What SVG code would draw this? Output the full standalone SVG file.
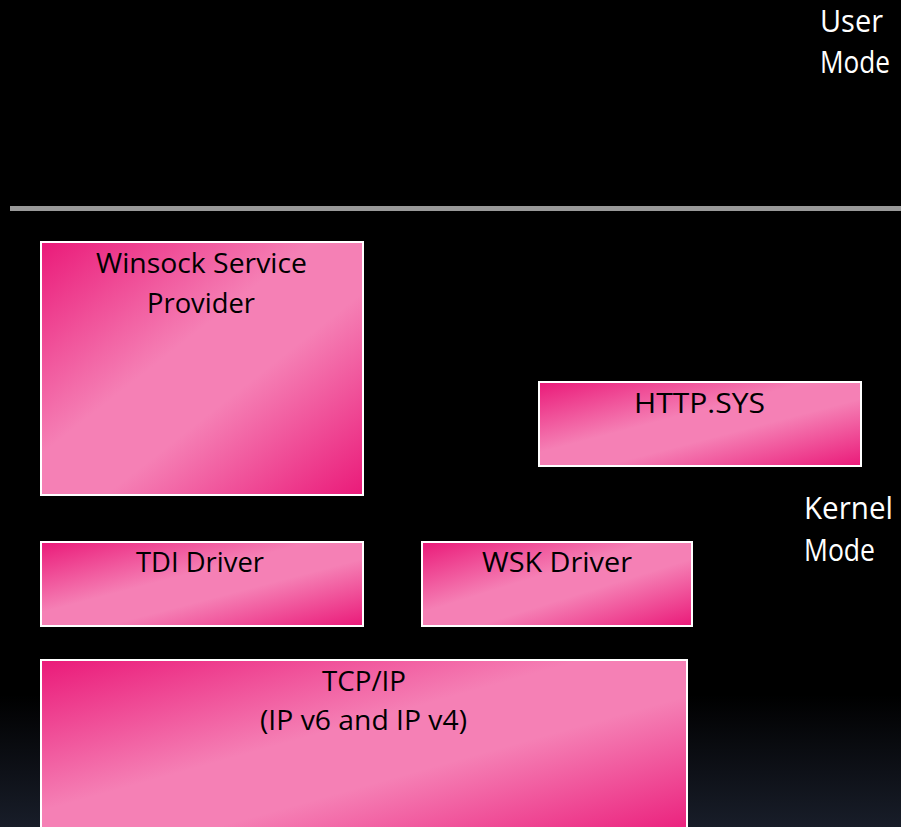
<svg xmlns="http://www.w3.org/2000/svg" width="901" height="827" viewBox="0 0 901 827">
  <defs>
    <linearGradient id="bg" gradientUnits="userSpaceOnUse" x1="0" y1="695" x2="0" y2="827">
      <stop offset="0" stop-color="#000000"/>
      <stop offset="1" stop-color="#181d29"/>
    </linearGradient>
    <linearGradient id="pink" x1="0" y1="0" x2="1" y2="1">
      <stop offset="0" stop-color="#ea1a79"/>
      <stop offset="0.42" stop-color="#f580b5"/>
      <stop offset="0.6" stop-color="#f580b5"/>
      <stop offset="1" stop-color="#ea1a79"/>
    </linearGradient>
  </defs>
  <style>
    .box { fill: url(#pink); stroke: #ffffff; stroke-width: 2; }
    .lbl { font-family: "Open Sans", "Liberation Sans", sans-serif; font-size: 27px; fill: #000000; }
    .mode { font-family: "Open Sans", "Liberation Sans", sans-serif; font-size: 31px; fill: #ffffff; }
  </style>
  <rect x="0" y="0" width="901" height="827" fill="url(#bg)"/>
  <rect x="10" y="206" width="891" height="5" fill="#999999"/>

  <g id="user-mode">
    <text class="mode" x="820" y="32" textLength="63" lengthAdjust="spacingAndGlyphs">User</text>
    <text class="mode" x="820" y="73" textLength="70" lengthAdjust="spacingAndGlyphs">Mode</text>
  </g>
  <g id="kernel-mode">
    <text class="mode" x="804" y="519" textLength="89" lengthAdjust="spacingAndGlyphs">Kernel</text>
    <text class="mode" x="804" y="561" textLength="71" lengthAdjust="spacingAndGlyphs">Mode</text>
  </g>

  <g id="winsock">
    <rect class="box" x="41" y="242" width="322" height="253"/>
    <text class="lbl" x="96" y="273" textLength="211" lengthAdjust="spacingAndGlyphs">Winsock Service</text>
    <text class="lbl" x="147" y="313" textLength="108" lengthAdjust="spacingAndGlyphs">Provider</text>
  </g>
  <g id="http-sys">
    <rect class="box" x="539" y="382" width="322" height="84"/>
    <text class="lbl" x="634" y="413" textLength="131" lengthAdjust="spacingAndGlyphs">HTTP.SYS</text>
  </g>
  <g id="tdi">
    <rect class="box" x="41" y="542" width="322" height="84"/>
    <text class="lbl" x="136" y="572" textLength="128" lengthAdjust="spacingAndGlyphs">TDI Driver</text>
  </g>
  <g id="wsk">
    <rect class="box" x="422" y="542" width="270" height="84"/>
    <text class="lbl" x="482" y="572" textLength="150" lengthAdjust="spacingAndGlyphs">WSK Driver</text>
  </g>
  <g id="tcpip">
    <rect class="box" x="41" y="660" width="646" height="180"/>
    <text class="lbl" x="322" y="691" textLength="84" lengthAdjust="spacingAndGlyphs">TCP/IP</text>
    <text class="lbl" x="260" y="730" textLength="207" lengthAdjust="spacingAndGlyphs">(IP v6 and IP v4)</text>
  </g>
  <g id="connectors"/>
</svg>
